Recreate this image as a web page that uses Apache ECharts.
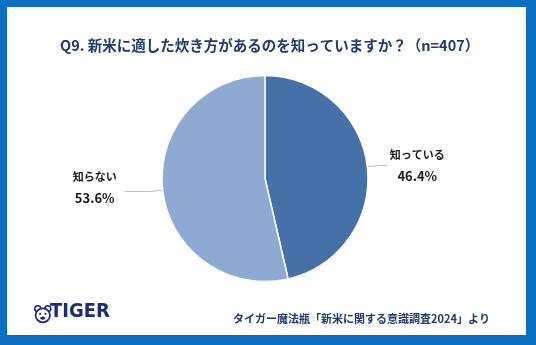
<!DOCTYPE html>
<html>
<head>
<meta charset="utf-8">
<script src="https://cdn.jsdelivr.net/npm/echarts@6/dist/echarts.min.js"></script>
<style>
  html, body { margin: 0; padding: 0; background: #ffffff; }
  #chart { width: 536px; height: 345px; }
</style>
</head>
<body>
<div id="chart"></div>
<script>
// Survey answers and their shares (%)
const categories = ['知っている', '知らない'];
const shares = [46.4, 53.6];
const sliceColors = ['#4571a8', '#8eaad3'];

const titleText = 'Q9. 新米に適した炊き方があるのを知っていますか？（n=407）';
const sourceText = 'タイガー魔法瓶「新米に関する意識調査2024」より';
const brandText = 'TIGER';

const navy = '#1f3a6e';
const brandNavy = '#1b2d74';
const font = '"Noto Sans CJK JP", "Noto Sans", sans-serif';

// per-slice leader line lengths and label offsets
const lineLen2 = [8, 26];
const labelPadBottom = [0, 8];

const chart = echarts.init(document.getElementById('chart'), null, { renderer: 'canvas' });

chart.setOption({
  animation: false,
  backgroundColor: '#0a6fc2',
  title: {
    text: titleText,
    left: 55,
    top: 33,
    textStyle: { fontFamily: font, fontSize: 14.5, fontWeight: 'bold', color: navy }
  },
  graphic: [
    // white card inside the blue frame
    { type: 'rect', z: -1, shape: { x: 7, y: 7, width: 519, height: 328 }, style: { fill: '#ffffff' } },
    // brand mark: simple tiger face
    {
      type: 'group', left: 34, top: 305,
      children: [
        { type: 'circle', shape: { cx: 3, cy: 3, r: 3 }, style: { fill: '#ffffff', stroke: brandNavy, lineWidth: 1.6 } },
        { type: 'circle', shape: { cx: 13, cy: 3, r: 3 }, style: { fill: '#ffffff', stroke: brandNavy, lineWidth: 1.6 } },
        { type: 'ellipse', shape: { cx: 8, cy: 9.5, rx: 7.2, ry: 7 }, style: { fill: '#ffffff', stroke: brandNavy, lineWidth: 1.8 } },
        { type: 'circle', shape: { cx: 5.3, cy: 8, r: 1.1 }, style: { fill: brandNavy } },
        { type: 'circle', shape: { cx: 10.7, cy: 8, r: 1.1 }, style: { fill: brandNavy } },
        { type: 'ellipse', shape: { cx: 8, cy: 12.3, rx: 2.6, ry: 1.7 }, style: { fill: brandNavy } }
      ]
    },
    {
      type: 'text', left: 50, top: 302,
      style: {
        text: brandText, fill: brandNavy,
        font: 'bold 20px "DejaVu Sans Condensed", "Liberation Sans Narrow", sans-serif'
      }
    },
    {
      type: 'text', right: 46, top: 313,
      style: { text: sourceText, fill: navy, font: 'bold 11px ' + font }
    }
  ],
  series: [{
    type: 'pie',
    center: [265, 178.5],
    radius: 103,
    startAngle: 90,
    clockwise: true,
    data: categories.map((name, i) => ({
      name,
      value: shares[i],
      itemStyle: { color: sliceColors[i] },
      label: { padding: [0, 0, labelPadBottom[i], 0] },
      labelLine: { length2: lineLen2[i] }
    })),
    itemStyle: { borderColor: '#ffffff', borderWidth: 1.5 },
    label: {
      show: true,
      formatter: p => '{n|' + p.name + '}\n{v|' + p.value.toFixed(1) + '%}',
      rich: {
        n: { fontFamily: font, fontSize: 11, fontWeight: 'bold', color: '#1a1a1a', lineHeight: 21, width: 50, align: 'center' },
        v: { fontFamily: font, fontSize: 13, fontWeight: 'bold', color: '#1a1a1a', lineHeight: 21, width: 50, align: 'center' }
      }
    },
    labelLine: {
      show: true,
      length: 12,
      lineStyle: { color: '#bfbfbf', width: 1 }
    }
  }]
});
</script>
</body>
</html>
